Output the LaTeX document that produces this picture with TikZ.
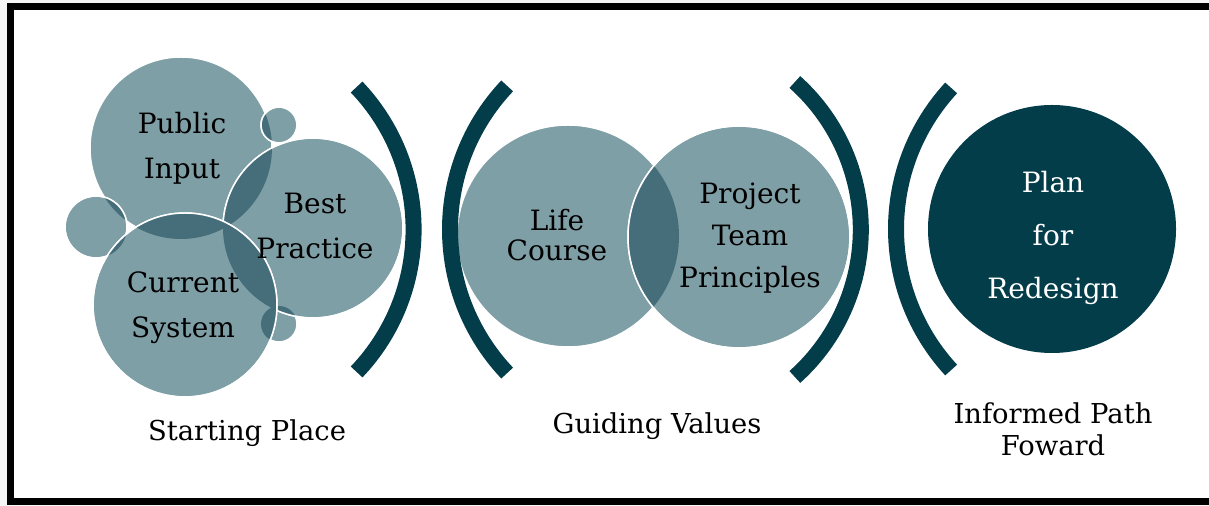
\documentclass[tikz,border=0pt]{standalone}
\usepackage{fontspec}
\setmainfont{DejaVu Serif}

\definecolor{paleteal}{HTML}{7F9FA6}
\definecolor{midteal}{HTML}{456E7A}
\definecolor{deepteal}{HTML}{043D4A}

\tikzset{
  bubble/.style={fill=paleteal, draw=white, line width=0.75pt},
  rim/.style={draw=white, line width=0.75pt},
  lens/.style={fill=midteal},
  bracket/.style={draw=deepteal, line width=8pt},
  lbl/.style={align=center, inner sep=0pt},
}

\begin{document}
\begin{tikzpicture}[x=0.5pt, y=-0.5pt]
  \useasboundingbox (0,0) rectangle (1209,506);
  \fill[gray!8] (0,0) rectangle (1209,506);
  \draw[fill=white, line width=3.5pt] (10.5,6.5) rectangle (1240,501.5);

  % starting place
  \coordinate (pub) at (181,148);
  \coordinate (sml) at (96,227);
  \coordinate (smt) at (279,125);
  \coordinate (smb) at (279,324);
  \coordinate (best) at (313,228);
  \coordinate (cur) at (185,305);
  \draw[bubble] (pub) circle (91);
  \draw[bubble] (sml) circle (31);
  \draw[bubble] (smt) circle (18);
  \draw[bubble] (smb) circle (18);
  \begin{scope}
    \clip (pub) circle (91);
    \fill[lens] (sml) circle (31) (smt) circle (18);
  \end{scope}
  \draw[rim] (sml) circle (31) (smt) circle (18);
  \draw[bubble] (best) circle (90);
  \begin{scope}
    \clip (best) circle (90);
    \fill[lens] (pub) circle (91) (smb) circle (18);
  \end{scope}
  \draw[rim] (best) circle (90);
  \draw[bubble] (cur) circle (92);
  \begin{scope}
    \clip (cur) circle (92);
    \fill[lens] (pub) circle (91) (sml) circle (31) (smb) circle (18) (best) circle (90);
  \end{scope}
  \draw[rim] (cur) circle (92);

  \node[lbl, font={\fontsize{14}{22.5}\selectfont}] (pubtxt) at (182,148) {Public\\Input};
  \node[lbl, font={\fontsize{14}{22.5}\selectfont}] (besttxt) at (315,226) {Best\\Practice};
  \node[lbl, font={\fontsize{14}{22.5}\selectfont}] (curtxt) at (183,308) {Current\\System};

  % guiding values
  \coordinate (life) at (568,236);
  \coordinate (proj) at (739,237);
  \draw[bubble] (life) circle (111);
  \draw[bubble] (proj) circle (111);
  \begin{scope}
    \clip (proj) circle (111);
    \fill[lens] (life) circle (111);
  \end{scope}
  \draw[rim] (proj) circle (111);
  \node[lbl, font={\fontsize{14}{15}\selectfont}] (lifetxt) at (557,235) {Life\\Course};
  \node[lbl, font={\fontsize{14}{21}\selectfont}] (projtxt) at (750,238) {Project\\Team\\Principles};

  % path forward
  \coordinate (plan) at (1052,229);
  \fill[deepteal] (plan) circle (124);
  \node[lbl, text=white, font={\fontsize{14}{26.5}\selectfont}] (plantxt) at (1053,238) {Plan\\for\\Redesign};

  % brackets
  \coordinate (b1) at (207,229.5);
  \coordinate (b2) at (659,229.5);
  \coordinate (b3) at (663,229.5);
  \coordinate (b4) at (1104,229);
  \draw[bracket] (b1) ++(-43.6:206.6) arc[start angle=-43.6, end angle=43.6, radius=206.6];
  \draw[bracket] (b2) ++(136.6:209) arc[start angle=136.6, end angle=223.4, radius=209];
  \draw[bracket] (b3) ++(-48.2:197.8) arc[start angle=-48.2, end angle=48.2, radius=197.8];
  \draw[bracket] (b4) ++(137.3:208) arc[start angle=137.3, end angle=222.7, radius=208];

  % captions
  \node[lbl, font={\fontsize{13.7}{16}\selectfont}] (start) at (247,433) {Starting Place};
  \node[lbl, font={\fontsize{13.7}{16}\selectfont}] (guide) at (657,426) {Guiding Values};
  \node[lbl, font={\fontsize{13.7}{16}\selectfont}] (ahead) at (1053,429) {Informed Path\\Foward};
\end{tikzpicture}
\end{document}
